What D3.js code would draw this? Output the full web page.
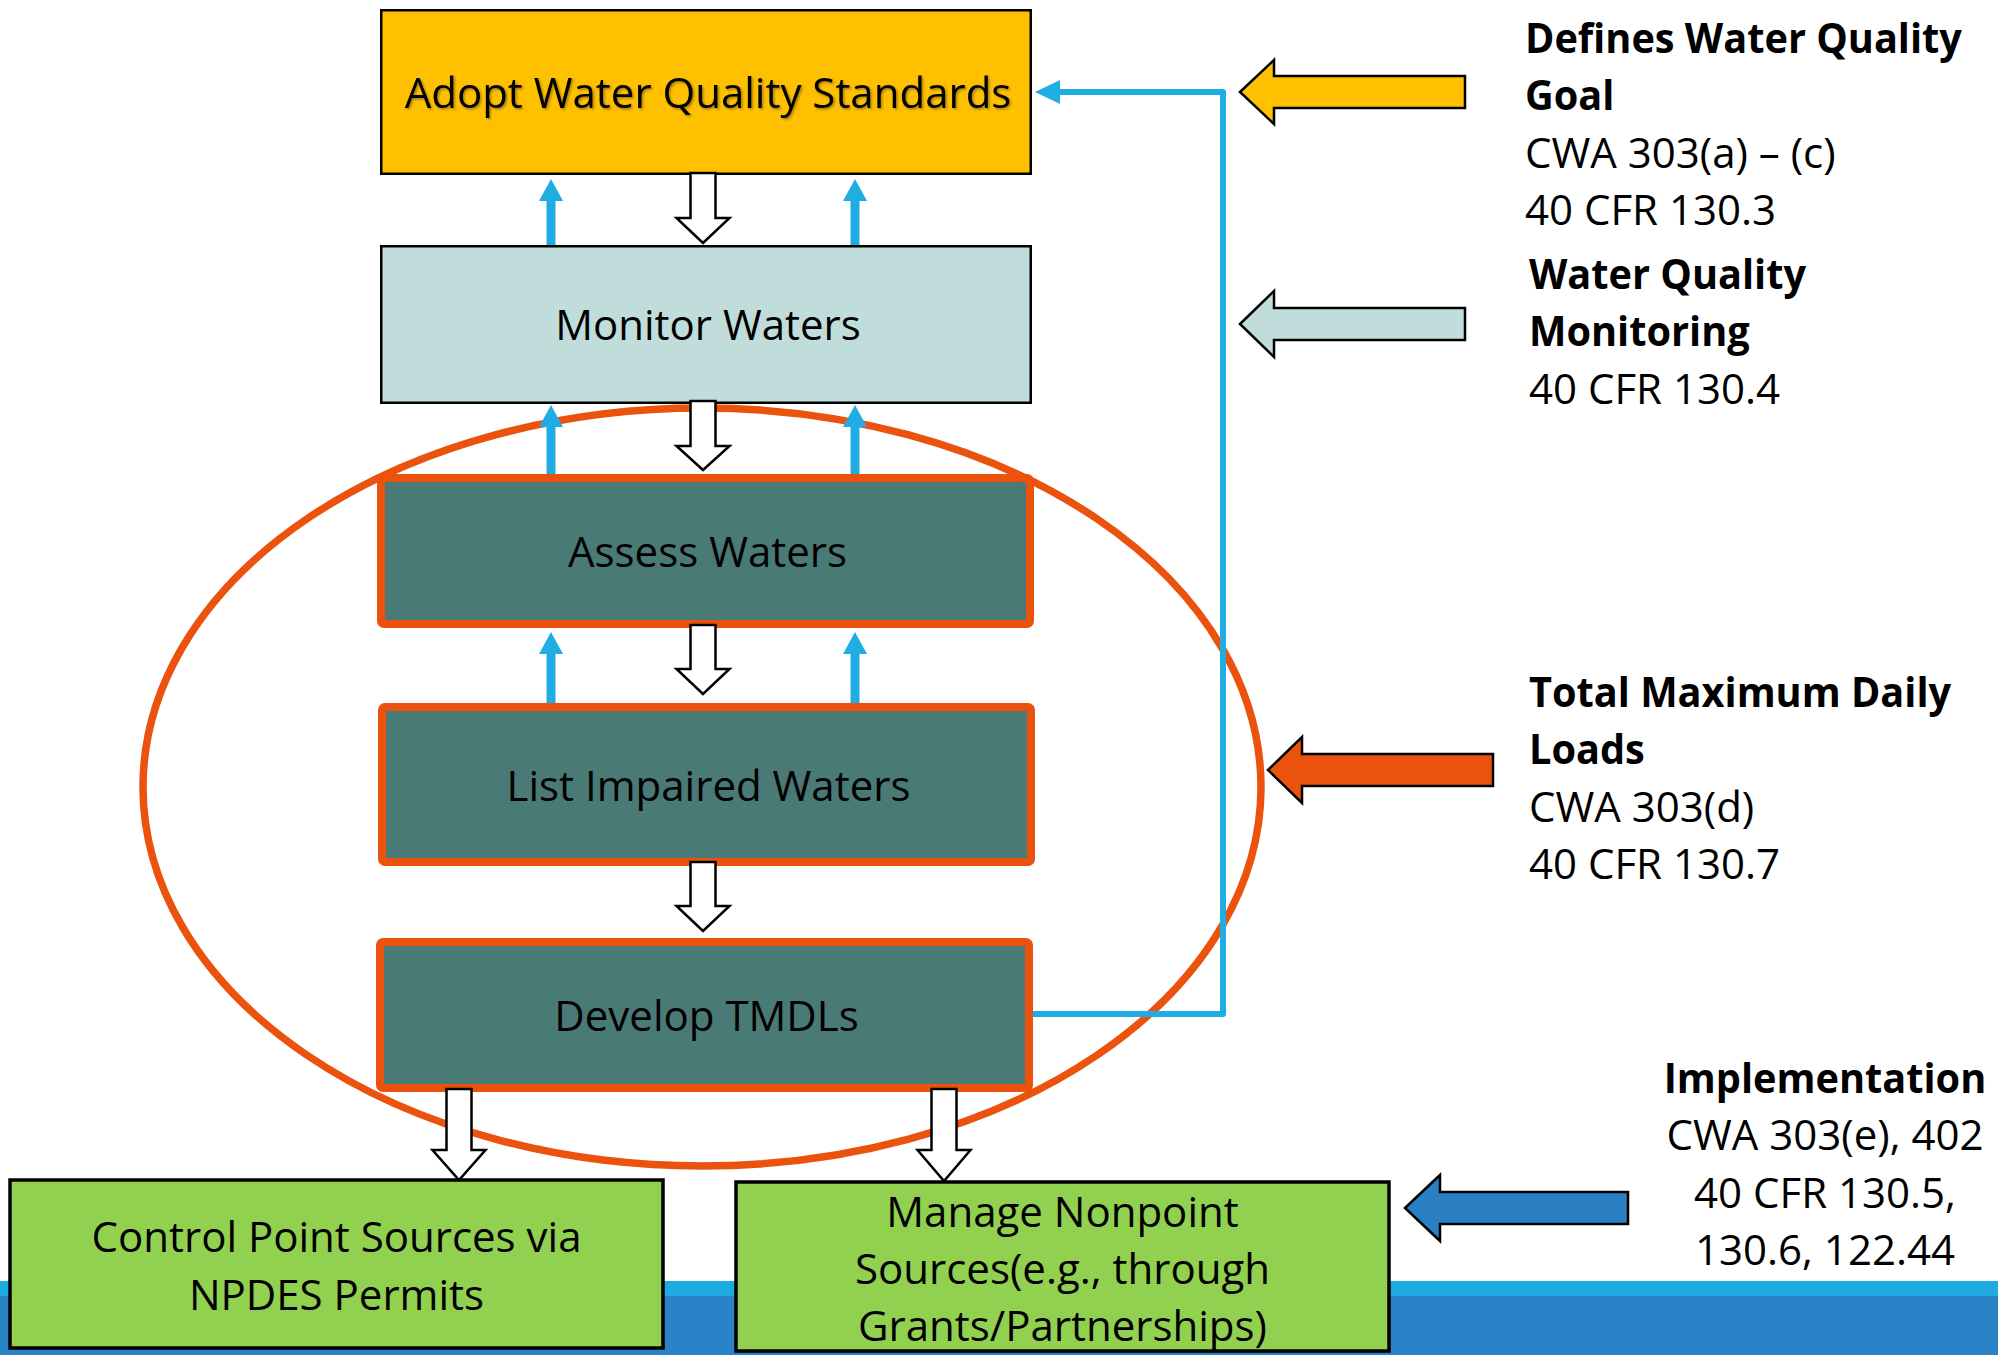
<!DOCTYPE html>
<html>
<head>
<meta charset="utf-8">
<script src="https://cdn.jsdelivr.net/npm/d3@7"></script>
<style>
  html, body { margin: 0; padding: 0; background: #fff; }
  svg { display: block; }
</style>
</head>
<body>
<script>
// ---------------- content ----------------
const steps = ["Adopt Water Quality Standards", "Monitor Waters", "Assess Waters", "List Impaired Waters", "Develop TMDLs"];
const stepKinds = ["standard", "monitor", "tmdl", "tmdl", "tmdl"];
const outcomes = [
  ["Control Point Sources via", "NPDES Permits"],
  ["Manage Nonpoint", "Sources(e.g., through", "Grants/Partnerships)"]
];
const noteTitles = [
  ["Defines Water Quality", "Goal"],
  ["Water Quality", "Monitoring"],
  ["Total Maximum Daily", "Loads"],
  ["Implementation"]
];
const noteRefs = [
  ["CWA 303(a) – (c)", "40 CFR 130.3"],
  ["40 CFR 130.4"],
  ["CWA 303(d)", "40 CFR 130.7"],
  ["CWA 303(e), 402", "40 CFR 130.5,", "130.6, 122.44"]
];
const noteKinds = ["standard", "monitor", "tmdl", "implement"];

// ---------------- styles ----------------
const colors = {
  standard: "#FFC000",
  monitor: "#C0DCDB",
  tmdl: "#497A76",
  orange: "#EA520D",
  green: "#92D050",
  feedback: "#20ADE3",
  implement: "#2B80C3",
  bandLight: "#1EABE2",
  bandDark: "#2A83C6"
};
const FONT = "'Open Sans', 'DejaVu Sans', sans-serif";
const FS = 42;
const BOLD_SQUEEZE = 0.945;

// ---------------- layout ----------------
const W = 1998, H = 1355;
const stepBoxes = [
  [380, 1032, 9, 175],
  [380, 1032, 245, 404],
  [377, 1034, 474, 628],
  [378, 1035, 703, 866],
  [376, 1033, 938, 1092]
];
const stepTextY = [93, 325, 552, 786, 1016];
const outcomeBoxes = [
  [10, 663, 1180, 1348],
  [736, 1389, 1182, 1351]
];
const outcomeTextY = [[1237, 1295], [1212, 1269, 1326]];

const svg = d3.select("body").append("svg").attr("width", W).attr("height", H);

const defs = svg.append("defs");
const f = defs.append("filter").attr("id", "shadow").attr("x", "-5%").attr("y", "-20%").attr("width", "110%").attr("height", "140%");
f.append("feDropShadow").attr("dx", 1.5).attr("dy", 1.5).attr("stdDeviation", 1.2).attr("flood-color", "#000").attr("flood-opacity", 0.35);

// bottom band
svg.append("rect").attr("x", 0).attr("y", 1281).attr("width", W).attr("height", 16).attr("fill", colors.bandLight);
svg.append("rect").attr("x", 0).attr("y", 1296).attr("width", W).attr("height", H - 1296).attr("fill", colors.bandDark);

// step boxes
steps.forEach((label, i) => {
  const [x0, x1, y0, y1] = stepBoxes[i];
  const kind = stepKinds[i];
  const sw = kind === "tmdl" ? 8 : 2.5;
  svg.append("rect")
    .attr("x", x0 + sw / 2).attr("y", y0 + sw / 2)
    .attr("width", x1 - x0 - sw).attr("height", y1 - y0 - sw)
    .attr("rx", kind === "tmdl" ? 3 : 0)
    .attr("fill", colors[kind])
    .attr("stroke", kind === "tmdl" ? colors.orange : "#000")
    .attr("stroke-width", sw);
});

// ellipse
const ell = { cx: 702, cy: 787, rx: 559, ry: 379 };
svg.append("ellipse").attr("cx", ell.cx).attr("cy", ell.cy).attr("rx", ell.rx).attr("ry", ell.ry)
  .attr("fill", "none").attr("stroke", colors.orange).attr("stroke-width", 7.5);

// step labels
steps.forEach((label, i) => {
  const [x0, x1] = stepBoxes[i];
  const t = svg.append("text")
    .attr("x", (x0 + x1) / 2 + 2).attr("y", stepTextY[i] + 15)
    .attr("text-anchor", "middle")
    .attr("font-family", FONT).attr("font-size", FS)
    .attr("fill", "#000")
    .text(label);
  if (i === 0) t.attr("filter", "url(#shadow)");
});

// outcome boxes
outcomes.forEach((lines, i) => {
  const [x0, x1, y0, y1] = outcomeBoxes[i];
  svg.append("rect").attr("x", x0).attr("y", y0).attr("width", x1 - x0).attr("height", y1 - y0)
    .attr("fill", colors.green).attr("stroke", "#000").attr("stroke-width", 3.5);
  lines.forEach((ln, j) => {
    svg.append("text")
      .attr("x", (x0 + x1) / 2).attr("y", outcomeTextY[i][j] + 15)
      .attr("text-anchor", "middle")
      .attr("font-family", FONT).attr("font-size", FS)
      .attr("fill", "#000").text(ln);
  });
});

// hollow down arrows
function hollowDown(cx, y0, y1, y2) {
  const sw = 12.5, hw = 26.5;
  const p = d3.path();
  p.moveTo(cx - sw, y0); p.lineTo(cx + sw, y0); p.lineTo(cx + sw, y1); p.lineTo(cx + hw, y1);
  p.lineTo(cx, y2); p.lineTo(cx - hw, y1); p.lineTo(cx - sw, y1); p.closePath();
  svg.append("path").attr("d", p.toString()).attr("fill", "#fff").attr("stroke", "#000").attr("stroke-width", 2.5)
    .attr("stroke-linejoin", "miter");
}
hollowDown(703, 173, 218, 243);
hollowDown(703, 401, 446, 470);
hollowDown(703, 625, 669, 694);
hollowDown(703, 862, 906, 931);
hollowDown(459, 1089, 1150, 1180);
hollowDown(944, 1089, 1150, 1181);

// blue up arrows
function blueUp(cx, yBottom, yTip) {
  const hw = 12, hl = 22;
  svg.append("line").attr("x1", cx).attr("x2", cx).attr("y1", yBottom).attr("y2", yTip + hl - 1)
    .attr("stroke", colors.feedback).attr("stroke-width", 9);
  svg.append("path").attr("d", `M${cx},${yTip}L${cx + hw},${yTip + hl}L${cx - hw},${yTip + hl}Z`).attr("fill", colors.feedback);
}
[[245, 179], [474, 405], [703, 632]].forEach(([yb, yt]) => {
  blueUp(551, yb, yt);
  blueUp(855, yb, yt);
});

// feedback loop from Develop TMDLs back to standards
const fb = [[1033, 1014], [1223, 1014], [1223, 92], [1058, 92]];
svg.append("path").attr("d", d3.line()(fb)).attr("fill", "none").attr("stroke", colors.feedback)
  .attr("stroke-width", 6).attr("stroke-linejoin", "round");
svg.append("path").attr("d", "M1035,92L1060,80L1060,104Z").attr("fill", colors.feedback);

// right side block arrows
const blockArrows = [
  { tip: 1240, cy: 92, base: 1274, hh: 32, sh: 16, right: 1465 },
  { tip: 1240, cy: 324, base: 1274, hh: 33, sh: 16, right: 1465 },
  { tip: 1268, cy: 770, base: 1302, hh: 33, sh: 16, right: 1493 },
  { tip: 1405, cy: 1208, base: 1440, hh: 33, sh: 16, right: 1628 }
];
blockArrows.forEach((a, i) => {
  const d = `M${a.tip},${a.cy}L${a.base},${a.cy - a.hh}L${a.base},${a.cy - a.sh}L${a.right},${a.cy - a.sh}` +
    `L${a.right},${a.cy + a.sh}L${a.base},${a.cy + a.sh}L${a.base},${a.cy + a.hh}Z`;
  const kind = noteKinds[i];
  svg.append("path").attr("d", d).attr("fill", kind === "tmdl" ? colors.orange : colors[kind])
    .attr("stroke", "#000").attr("stroke-width", 2.5);
});

// notes
const noteAnchors = [
  { x: 1525, y: 38, anchor: "start" },
  { x: 1529, y: 274, anchor: "start" },
  { x: 1529, y: 692, anchor: "start" },
  { x: 1825, y: 1078, anchor: "middle" }
];
const lineGap = 57.3;
noteTitles.forEach((titles, i) => {
  const a = noteAnchors[i];
  const lines = titles.map(t => ({ t, bold: true })).concat(noteRefs[i].map(t => ({ t, bold: false })));
  lines.forEach((ln, j) => {
    const t = svg.append("text")
      .attr("x", a.x).attr("y", a.y + j * lineGap + 15)
      .attr("text-anchor", a.anchor)
      .attr("font-family", FONT).attr("font-size", FS)
      .attr("font-weight", ln.bold ? 700 : 400)
      .attr("fill", "#000").text(ln.t);
    if (ln.bold) {
      const len = t.node().getComputedTextLength();
      t.attr("textLength", len * BOLD_SQUEEZE).attr("lengthAdjust", "spacingAndGlyphs");
    }
  });
});
</script>
</body>
</html>
